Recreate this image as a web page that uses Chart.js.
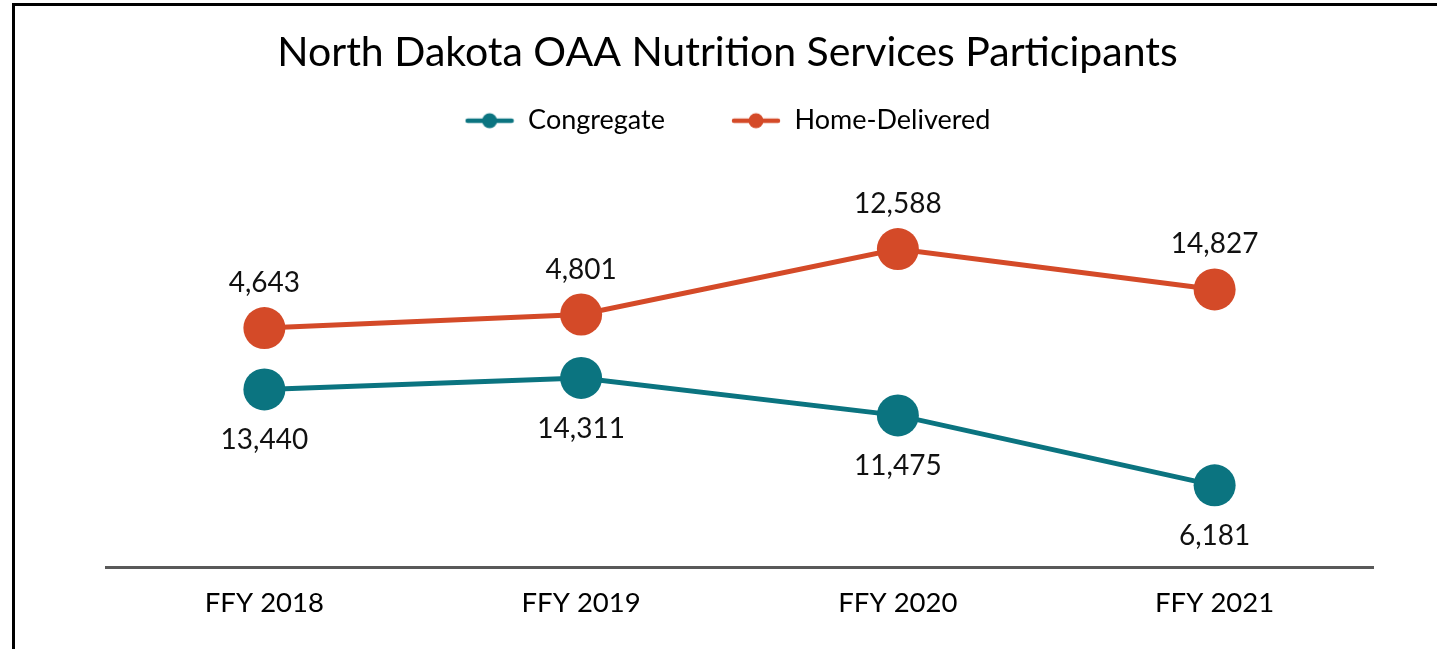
<!DOCTYPE html>
<html>
<head>
<meta charset="utf-8">
<script src="https://cdn.jsdelivr.net/npm/chart.js@4"></script>
<style>
    html, body { margin: 0; padding: 0; background: #fff; }
    #wrap { position: relative; width: 1437px; height: 649px; overflow: hidden; }
    #frame {
        position: absolute; left: 12px; top: 3px; right: -10px; bottom: -10px;
        border-left: 3px solid #000; border-top: 3px solid #000;
    }
    #chart { position: absolute; left: 0; top: 0; }
</style>
</head>
<body>
<div id="wrap">
    <div id="frame"></div>
    <canvas id="chart" width="1437" height="649"></canvas>
</div>
<script>
// Data
const years = ['FFY 2018', 'FFY 2019', 'FFY 2020', 'FFY 2021'];
const congregate = [13440, 14311, 11475, 6181];
const homeDelivered = [4643, 4801, 12588, 14827];

const TEAL = '#0B7480';
const ORANGE = '#D44A28';
const FONT = 'Lato, "Open Sans", sans-serif';

// legend marker: short line with a dot in the middle
function legendMarker(color) {
    const c = document.createElement('canvas');
    c.width = 50; c.height = 18;
    const g = c.getContext('2d');
    g.strokeStyle = color;
    g.lineWidth = 4.5;
    g.lineCap = 'round';
    g.beginPath();
    g.moveTo(3, 9); g.lineTo(47, 9);
    g.stroke();
    g.fillStyle = color;
    g.beginPath();
    g.arc(25, 9, 7.5, 0, Math.PI * 2);
    g.fill();
    return c;
}

// value labels: top series above its points, bottom series below
const valueLabels = {
    id: 'valueLabels',
    afterDatasetsDraw(chart) {
        const ctx = chart.ctx;
        ctx.save();
        ctx.font = '28px ' + FONT;
        ctx.fillStyle = '#111';
        ctx.textAlign = 'center';
        ctx.textBaseline = 'middle';
        chart.data.datasets.forEach((ds, i) => {
            const meta = chart.getDatasetMeta(i);
            meta.data.forEach((pt, j) => {
                const txt = ds.data[j].toLocaleString('en-US');
                const dy = ds.labelAbove ? -45 : 51;
                ctx.fillText(txt, pt.x, pt.y + dy);
            });
        });
        ctx.restore();
    }
};

const ctx = document.getElementById('chart').getContext('2d');

new Chart(ctx, {
    type: 'line',
    data: {
        labels: years,
        datasets: [
            {
                label: 'Congregate',
                data: congregate,
                borderColor: TEAL,
                backgroundColor: TEAL,
                pointBackgroundColor: TEAL,
                pointBorderWidth: 0,
                pointRadius: 21,
                borderWidth: 5,
                tension: 0,
                fill: false,
                labelAbove: false
            },
            {
                label: 'Home-Delivered',
                data: homeDelivered,
                borderColor: ORANGE,
                backgroundColor: ORANGE,
                pointBackgroundColor: ORANGE,
                pointBorderWidth: 0,
                pointRadius: 21,
                borderWidth: 5,
                tension: 0,
                fill: false,
                labelAbove: true
            }
        ]
    },
    options: {
        responsive: false,
        animation: false,
        layout: {
            autoPadding: false,
            padding: { left: 82, right: 64, top: 0, bottom: 9 }
        },
        plugins: {
            title: {
                display: true,
                text: 'North Dakota OAA Nutrition Services Participants',
                color: '#000',
                font: { family: FONT, size: 41, weight: 'normal' },
                padding: { top: 28, bottom: -36 }
            },
            legend: {
                display: true,
                position: 'top',
                labels: {
                    color: '#000',
                    font: { family: FONT, size: 27 },
                    usePointStyle: true,
                    pointStyleWidth: 50,
                    padding: 66,
                    generateLabels(chart) {
                        return chart.data.datasets.map((ds, i) => ({
                            text: ds.label,
                            pointStyle: legendMarker(ds.borderColor),
                            fillStyle: ds.borderColor,
                            strokeStyle: ds.borderColor,
                            lineWidth: 0,
                            fontColor: '#000',
                            hidden: false,
                            datasetIndex: i
                        }));
                    }
                }
            },
            tooltip: { enabled: false }
        },
        scales: {
            x: {
                offset: true,
                grid: { display: false, drawTicks: false },
                border: { display: true, color: '#595959', width: 3 },
                ticks: {
                    color: '#000',
                    font: { family: FONT, size: 27.5 },
                    padding: 20
                }
            },
            y: {
                stacked: true,
                min: 0,
                max: 32000,
                grid: { display: false, drawTicks: false },
                border: { display: false },
                ticks: { display: false },
                afterFit(scale) { scale.width = 24; }
            }
        }
    },
    plugins: [valueLabels]
});
</script>
</body>
</html>
